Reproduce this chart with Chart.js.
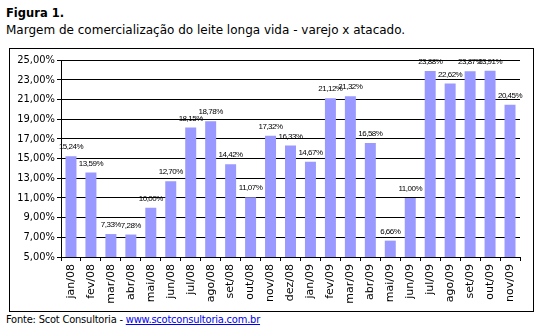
<!DOCTYPE html>
<html>
<head>
<meta charset="utf-8">
<script src="https://cdn.jsdelivr.net/npm/chart.js@4"></script>
<style>
  body { margin: 0; background: #fff; font-family: "DejaVu Sans", Verdana, sans-serif; }
  #title { position: absolute; left: 6px; top: 6px; font-size: 11.5px; font-weight: bold; color: #000; }
  #subtitle { position: absolute; left: 6px; top: 23px; font-size: 12px; color: #000; }
  #frame { position: absolute; left: 9px; top: 48px; width: 523px; height: 262px; border: 1px solid #000; }
  #source { position: absolute; left: 6px; top: 313px; font-size: 11px; color: #000; font-family: "DejaVu Sans Condensed", "DejaVu Sans", sans-serif; letter-spacing: -0.2px; }
  #source a { color: #0000ee; }
</style>
</head>
<body>
<div id="title">Figura 1.</div>
<div id="subtitle">Margem de comercialização do leite longa vida - varejo x atacado.</div>
<div id="frame"><canvas id="myChart" width="523" height="262"></canvas></div>
<div id="source">Fonte: Scot Consultoria - <a href="#">www.scotconsultoria.com.br</a></div>
<script>
const months = [
  'jan/08', 'fev/08', 'mar/08', 'abr/08', 'mai/08', 'jun/08', 'jul/08', 'ago/08',
  'set/08', 'out/08', 'nov/08', 'dez/08', 'jan/09', 'fev/09', 'mar/09', 'abr/09',
  'mai/09', 'jun/09', 'jul/09', 'ago/09', 'set/09', 'out/09', 'nov/09'
];
const margem = [
  15.24, 13.59, 7.33, 7.28, 10.00, 12.70, 18.15, 18.78,
  14.42, 11.07, 17.32, 16.33, 14.67, 21.12, 21.32, 16.58,
  6.66, 11.00, 23.88, 22.62, 23.87, 23.91, 20.45
];

function pct(v) {
  return v.toFixed(2).replace('.', ',') + '%';
}

// rótulos em cima das barras
const valueLabels = {
  id: 'valueLabels',
  afterDatasetsDraw(chart) {
    const ctx = chart.ctx;
    const meta = chart.getDatasetMeta(0);
    ctx.save();
    ctx.font = '8px "Liberation Sans Narrow", "Liberation Sans", Arial, sans-serif';
    ctx.letterSpacing = '-0.5px';
    ctx.fillStyle = '#000';
    ctx.textAlign = 'center';
    ctx.textBaseline = 'bottom';
    meta.data.forEach((bar, i) => {
      ctx.fillText(pct(margem[i]), bar.x, bar.y - 5);
    });
    ctx.restore();
  }
};

const config = {
  type: 'bar',
  data: {
    labels: months,
    datasets: [{
      data: margem,
      backgroundColor: '#9999ff',
      borderWidth: 0,
      barPercentage: 0.55,
      categoryPercentage: 1
    }]
  },
  options: {
    responsive: false,
    animation: false,
    layout: { padding: { top: 11, right: 13, left: 0, bottom: 0 } },
    plugins: { legend: { display: false }, tooltip: { enabled: false } },
    scales: {
      x: {
        grid: { drawOnChartArea: false, color: '#000', tickLength: 4, offset: true },
        border: { color: '#000' },
        ticks: {
          color: '#000',
          font: { family: '"DejaVu Sans", Verdana, sans-serif', size: 11 },
          maxRotation: 90, minRotation: 90, autoSkip: false, padding: 3
        },
        afterFit(s) { s.height = 54; }
      },
      y: {
        min: 5, max: 25,
        grid: { color: '#000', tickLength: 4 },
        border: { color: '#000' },
        ticks: {
          stepSize: 2,
          color: '#000',
          font: { family: '"DejaVu Sans Condensed", "DejaVu Sans", sans-serif', size: 11 },
          callback: v => pct(v),
          padding: 2
        },
        afterFit(s) { s.width = 51; }
      }
    }
  },
  plugins: [valueLabels]
};

var myChart = new Chart(document.getElementById('myChart'), config);
</script>
</body>
</html>
